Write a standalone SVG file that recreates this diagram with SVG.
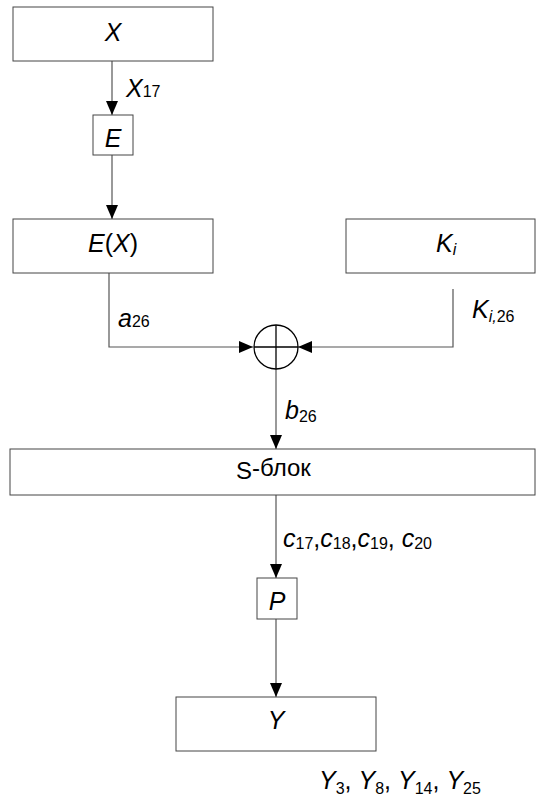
<svg xmlns="http://www.w3.org/2000/svg" width="536" height="798" viewBox="0 0 536 798">
<style>
.box{fill:#fff;stroke:#444;stroke-width:1}
.ln{fill:none;stroke:#555;stroke-width:1.2}
.t{font-family:"Liberation Sans",Arial,sans-serif;font-style:italic;font-size:25px;fill:#000}
.n{font-family:"Liberation Sans",Arial,sans-serif;font-size:24px;fill:#000}
.s{font-size:16px;font-style:normal}
.si{font-size:16px}
.up{font-style:normal}
</style>
<defs>
<marker id="arr" markerWidth="14" markerHeight="12" refX="14" refY="6" orient="auto" markerUnits="userSpaceOnUse">
<path d="M0,0 L14,6 L0,12 Z" fill="#000"/>
</marker>
</defs>
<g id="connectors">
<line class="ln" x1="112" y1="61" x2="112" y2="115" marker-end="url(#arr)"/>
<line class="ln" x1="112" y1="155" x2="112" y2="219" marker-end="url(#arr)"/>
<polyline class="ln" points="109,273 109,347 253,347" marker-end="url(#arr)"/>
<polyline class="ln" points="453,289 453,347 298,347" marker-end="url(#arr)"/>
<line class="ln" x1="276" y1="369" x2="276" y2="449" marker-end="url(#arr)"/>
<line class="ln" x1="276" y1="495" x2="276" y2="578" marker-end="url(#arr)"/>
<line class="ln" x1="276" y1="619" x2="276" y2="697" marker-end="url(#arr)"/>
<text class="t" x="126" y="97">X<tspan class="s">17</tspan></text>
<text class="t" x="118" y="327">a<tspan class="s">26</tspan></text>
<text class="t" x="472" y="318">K<tspan class="si" dy="4">i,</tspan><tspan class="s">26</tspan></text>
<text class="t" x="285" y="419">b<tspan class="s" dy="3">26</tspan></text>
<text class="t" x="283" y="547">c<tspan class="s" dy="2">17</tspan><tspan class="up" dy="-2">,</tspan>c<tspan class="s" dy="2">18</tspan><tspan class="up" dy="-2">,</tspan>c<tspan class="s" dy="2">19</tspan><tspan class="up" dy="-2">,&#160;</tspan>c<tspan class="s" dy="2">20</tspan></text>
<text class="t" x="319" y="789">Y<tspan class="s" dy="5">3</tspan><tspan class="up" dy="-5">,&#160;</tspan>Y<tspan class="s" dy="5">8</tspan><tspan class="up" dy="-5">,&#160;</tspan>Y<tspan class="s" dy="5">14</tspan><tspan class="up" dy="-5">,&#160;</tspan>Y<tspan class="s" dy="5">25</tspan></text>
</g>
<g id="node-X">
<rect class="box" x="13" y="7" width="200" height="54"/>
<text class="t" x="113" y="41" text-anchor="middle">X</text>
</g>
<g id="node-E">
<rect class="box" x="93" y="115" width="40" height="40"/>
<text class="t" x="113" y="147" text-anchor="middle">E</text>
</g>
<g id="node-EX">
<rect class="box" x="13" y="219" width="200" height="54"/>
<text class="t" x="113" y="252" text-anchor="middle">E<tspan class="up">(</tspan>X<tspan class="up">)</tspan></text>
</g>
<g id="node-Ki">
<rect class="box" x="346" y="219" width="189" height="54"/>
<text class="t" x="436" y="252">K<tspan class="si" dy="3">i</tspan></text>
</g>
<g id="node-xor">
<circle cx="276" cy="347" r="22" fill="#fff" stroke="#000" stroke-width="1.3"/>
<line x1="276" y1="325" x2="276" y2="369" stroke="#000" stroke-width="1.3"/>
<line x1="254" y1="347" x2="298" y2="347" stroke="#000" stroke-width="1.3"/>
</g>
<g id="node-S">
<rect class="box" x="10" y="449" width="525" height="46"/>
<text class="n" x="236" y="479">S<tspan dy="-3">-блок</tspan></text>
</g>
<g id="node-P">
<rect class="box" x="257" y="578" width="40" height="41"/>
<text class="t" x="277" y="610" text-anchor="middle">P</text>
</g>
<g id="node-Y">
<rect class="box" x="176" y="697" width="200" height="54"/>
<text class="t" x="276" y="729" text-anchor="middle">Y</text>
</g>
</svg>
